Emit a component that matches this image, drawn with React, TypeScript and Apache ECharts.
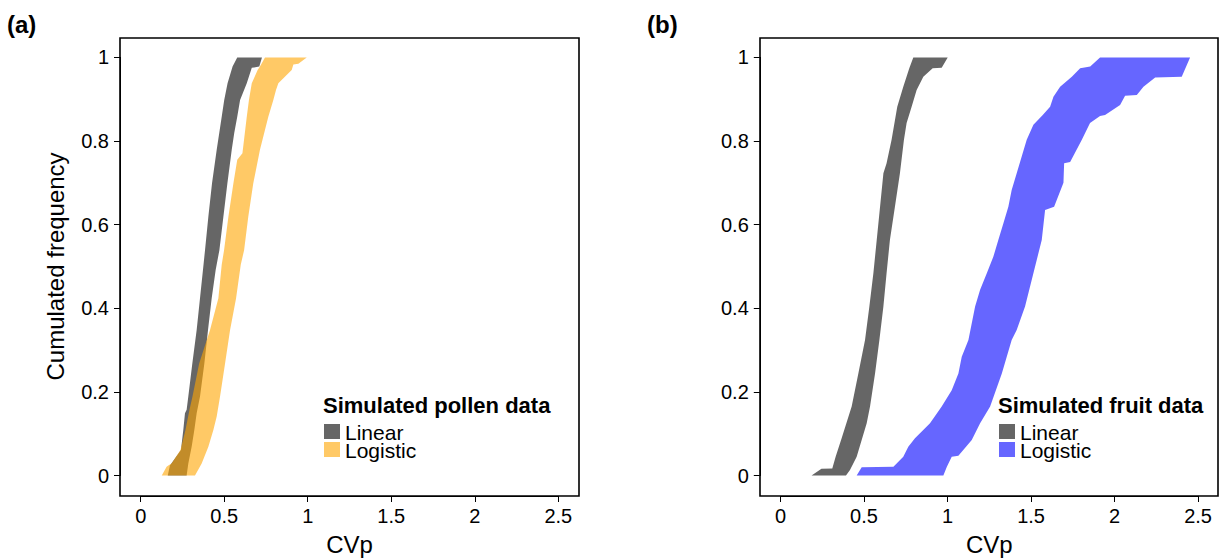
import { useEffect, useRef } from 'react';
import * as echarts from 'echarts';

// ---------- data (pairs are [cumulated frequency, CVp]) ----------
const xTickValues = [0, 0.5, 1, 1.5, 2, 2.5];
const yTickValues = [0, 0.2, 0.4, 0.6, 0.8, 1];
const panelLabels = ['(a)', '(b)'];
const legendTitles = ['Simulated pollen data', 'Simulated fruit data'];
const legendItems = ['Linear', 'Logistic'];

// Panel (a): simulated pollen data
const pollenLinearLo = [
  [0, 0.162], [0.024, 0.175], [0.061, 0.241], [0.109, 0.255], [0.149, 0.265], [0.157, 0.275],
  [0.189, 0.285], [0.268, 0.309], [0.348, 0.335], [0.424, 0.355], [0.504, 0.376], [0.539, 0.385],
  [0.619, 0.405], [0.699, 0.427], [0.779, 0.455], [0.858, 0.485], [0.898, 0.5], [0.938, 0.52],
  [0.978, 0.55], [1, 0.578],
];
const pollenLinearHi = [
  [0, 0.275], [0.029, 0.285], [0.069, 0.305], [0.109, 0.321], [0.149, 0.335], [0.189, 0.355],
  [0.268, 0.381], [0.348, 0.403], [0.424, 0.425], [0.492, 0.449], [0.539, 0.471], [0.619, 0.495],
  [0.699, 0.519], [0.779, 0.545], [0.819, 0.56], [0.858, 0.578], [0.898, 0.595], [0.938, 0.635],
  [0.975, 0.665], [0.978, 0.71], [1, 0.726],
];
const pollenLogisticLo = [
  [0, 0.126], [0.021, 0.155], [0.024, 0.165], [0.029, 0.185], [0.061, 0.238], [0.109, 0.268],
  [0.157, 0.292], [0.189, 0.31], [0.268, 0.35], [0.348, 0.415], [0.424, 0.465], [0.504, 0.485],
  [0.539, 0.499], [0.619, 0.525], [0.699, 0.555], [0.755, 0.578], [0.771, 0.609], [0.858, 0.635],
  [0.898, 0.648], [0.938, 0.665], [0.97, 0.7], [0.978, 0.714], [1, 0.744],
];
const pollenLogisticHi = [
  [0, 0.325], [0.029, 0.365], [0.069, 0.405], [0.109, 0.435], [0.141, 0.455], [0.189, 0.475],
  [0.268, 0.505], [0.348, 0.535], [0.424, 0.571], [0.504, 0.599], [0.539, 0.619], [0.619, 0.644],
  [0.699, 0.674], [0.779, 0.714], [0.858, 0.764], [0.898, 0.794], [0.922, 0.81], [0.938, 0.824],
  [0.97, 0.904], [0.983, 0.914], [0.985, 0.944], [1, 0.994],
];

// Panel (b): simulated fruit data
const fruitLinearLo = [
  [0, 0.186], [0.016, 0.245], [0.017, 0.31], [0.045, 0.33], [0.089, 0.366], [0.165, 0.426],
  [0.244, 0.466], [0.324, 0.506], [0.404, 0.532], [0.484, 0.556], [0.563, 0.576], [0.643, 0.596],
  [0.723, 0.616], [0.747, 0.635], [0.803, 0.665], [0.882, 0.699], [0.93, 0.735], [0.974, 0.771],
  [1, 0.795],
];
const fruitLinearHi = [
  [0, 0.392], [0.013, 0.416], [0.045, 0.456], [0.085, 0.486], [0.125, 0.516], [0.165, 0.536],
  [0.244, 0.566], [0.324, 0.592], [0.404, 0.616], [0.484, 0.635], [0.563, 0.655], [0.643, 0.685],
  [0.723, 0.715], [0.803, 0.739], [0.843, 0.755], [0.882, 0.785], [0.922, 0.815], [0.954, 0.855],
  [0.974, 0.911], [0.975, 0.965], [1, 1.001],
];
const fruitLogisticLo = [
  [0, 0.456], [0.02, 0.486], [0.021, 0.676], [0.045, 0.735], [0.069, 0.765], [0.089, 0.805],
  [0.125, 0.895], [0.165, 0.965], [0.204, 1.025], [0.244, 1.065], [0.284, 1.085], [0.324, 1.125],
  [0.364, 1.145], [0.404, 1.165], [0.444, 1.195], [0.484, 1.235], [0.523, 1.274], [0.563, 1.304],
  [0.603, 1.334], [0.643, 1.364], [0.683, 1.384], [0.723, 1.414], [0.763, 1.444], [0.803, 1.474],
  [0.839, 1.514], [0.862, 1.57], [0.882, 1.614], [0.906, 1.634], [0.93, 1.674], [0.954, 1.744],
  [0.974, 1.794], [0.978, 1.854], [1, 1.913],
];
const fruitLogisticHi = [
  [0, 0.975], [0.021, 0.996], [0.045, 1.025], [0.047, 1.065], [0.085, 1.145], [0.125, 1.195],
  [0.165, 1.255], [0.244, 1.325], [0.324, 1.384], [0.348, 1.414], [0.404, 1.464], [0.484, 1.514],
  [0.563, 1.564], [0.635, 1.584], [0.643, 1.638], [0.7, 1.694], [0.747, 1.698], [0.75, 1.734],
  [0.803, 1.804], [0.843, 1.853], [0.86, 1.913], [0.862, 1.943], [0.886, 2.033], [0.908, 2.063],
  [0.91, 2.133], [0.93, 2.173], [0.952, 2.243], [0.954, 2.402], [1, 2.452],
];

// ---------- styling ----------
const FONT = '"Liberation Sans", Arial, Helvetica, sans-serif';
const COLOR_LINEAR = 'rgba(0,0,0,0.6)';
const COLOR_POLLEN = 'rgba(255,165,0,0.6)';
const COLOR_FRUIT = 'rgba(0,0,255,0.6)';

type Pair = number[];

function bandRenderer(lo: Pair[], hi: Pair[], color: string) {
  return (params: any, api: any) => {
    if (params.dataIndex !== 0) return null;
    const pts = [
      ...lo.map(([y, x]) => api.coord([x, y])),
      ...hi.slice().reverse().map(([y, x]) => api.coord([x, y])),
    ];
    return { type: 'polygon', shape: { points: pts }, style: { fill: color }, silent: true };
  };
}

const PANEL_LEFT = [140.7, 780.5];
const GRID_TOP = 57.4;
const GRID_W = 417.6;
const GRID_H = 418.1;
const BOX = [
  { x: 120, y: 38, w: 459, h: 458 },
  { x: 760, y: 38, w: 458, h: 458 },
];
const LEGEND_X = [323, 998];
const LEGEND_TEXT_X = [345, 1020];

function makeAxisX(gridIndex: number) {
  return {
    type: 'value',
    gridIndex,
    min: xTickValues[0],
    max: xTickValues[xTickValues.length - 1],
    interval: 0.5,
    position: 'bottom',
    offset: 20.5,
    name: 'CVp',
    nameLocation: 'middle',
    nameGap: 36,
    nameTextStyle: { fontFamily: FONT, fontSize: 24, color: '#000' },
    axisLine: { show: true, onZero: false, lineStyle: { color: '#000', width: 1 } },
    axisTick: { show: true, length: 6, inside: false, lineStyle: { color: '#000', width: 1 } },
    axisLabel: { fontFamily: FONT, fontSize: 20, color: '#000', margin: 10 },
    splitLine: { show: false },
  };
}

function makeAxisY(gridIndex: number, withName: boolean) {
  return {
    type: 'value',
    gridIndex,
    min: yTickValues[0],
    max: yTickValues[yTickValues.length - 1],
    interval: 0.2,
    position: 'left',
    offset: 20.7,
    name: withName ? 'Cumulated frequency' : '',
    nameLocation: 'middle',
    nameGap: 53,
    nameTextStyle: { fontFamily: FONT, fontSize: 24, color: '#000' },
    axisLine: { show: true, onZero: false, lineStyle: { color: '#000', width: 1 } },
    axisTick: { show: true, length: 6, inside: false, lineStyle: { color: '#000', width: 1 } },
    axisLabel: { fontFamily: FONT, fontSize: 20, color: '#000', margin: 11 },
    splitLine: { show: false },
  };
}

function legendGraphics(panel: number, color: string) {
  const x = LEGEND_X[panel];
  const tx = LEGEND_TEXT_X[panel];
  return [
    {
      type: 'text', x, y: 405,
      style: { text: legendTitles[panel], fontFamily: FONT, fontSize: 22, fontWeight: 'bold', fill: '#000', align: 'left', verticalAlign: 'middle', lineHeight: 22 },
    },
    { type: 'rect', shape: { x: x + 1, y: 424, width: 16, height: 15 }, style: { fill: COLOR_LINEAR } },
    { type: 'rect', shape: { x: x + 1, y: 442, width: 16, height: 15 }, style: { fill: color } },
    {
      type: 'text', x: tx, y: 432,
      style: { text: legendItems[0], fontFamily: FONT, fontSize: 21, fill: '#000', align: 'left', verticalAlign: 'middle', lineHeight: 17 },
    },
    {
      type: 'text', x: tx, y: 450,
      style: { text: legendItems[1], fontFamily: FONT, fontSize: 21, fill: '#000', align: 'left', verticalAlign: 'middle', lineHeight: 17 },
    },
  ];
}

export default function App() {
  const ref = useRef<HTMLDivElement>(null);
  useEffect(() => {
    if (!ref.current) return;
    const chart = echarts.init(ref.current, undefined, { renderer: 'svg' });
    const bands = [
      { lo: pollenLinearLo, hi: pollenLinearHi, color: COLOR_LINEAR, panel: 0, name: 'Linear' },
      { lo: pollenLogisticLo, hi: pollenLogisticHi, color: COLOR_POLLEN, panel: 0, name: 'Logistic' },
      { lo: fruitLinearLo, hi: fruitLinearHi, color: COLOR_LINEAR, panel: 1, name: 'Linear' },
      { lo: fruitLogisticLo, hi: fruitLogisticHi, color: COLOR_FRUIT, panel: 1, name: 'Logistic' },
    ];
    chart.setOption({
      animation: false,
      backgroundColor: '#fff',
      grid: PANEL_LEFT.map((left) => ({
        left, top: GRID_TOP, width: GRID_W, height: GRID_H, containLabel: false, outerBoundsMode: 'none',
      })),
      xAxis: [makeAxisX(0), makeAxisX(1)],
      yAxis: [makeAxisY(0, true), makeAxisY(1, false)],
      series: bands.map((b) => ({
        type: 'custom',
        name: b.name,
        coordinateSystem: 'cartesian2d',
        xAxisIndex: b.panel,
        yAxisIndex: b.panel,
        itemStyle: { color: b.color },
        renderItem: bandRenderer(b.lo, b.hi, b.color),
        data: [[b.lo[0][1], b.lo[0][0]]],
        clip: false,
      })),
      graphic: [
        ...BOX.map((bx) => ({
          type: 'rect', z: 10,
          shape: { x: bx.x, y: bx.y, width: bx.w, height: bx.h },
          style: { fill: 'none', stroke: '#000', lineWidth: 1.6 },
        })),
        {
          type: 'text', x: 7, y: 24,
          style: { text: panelLabels[0], fontFamily: FONT, fontSize: 24, fontWeight: 'bold', fill: '#000', verticalAlign: 'middle' },
        },
        {
          type: 'text', x: 647, y: 24,
          style: { text: panelLabels[1], fontFamily: FONT, fontSize: 24, fontWeight: 'bold', fill: '#000', verticalAlign: 'middle' },
        },
        ...legendGraphics(0, COLOR_POLLEN),
        ...legendGraphics(1, COLOR_FRUIT),
      ],
    });
    return () => chart.dispose();
  }, []);
  return <div ref={ref} style={{ position: 'absolute', left: 0, top: 0, width: 1222, height: 558 }} />;
}
